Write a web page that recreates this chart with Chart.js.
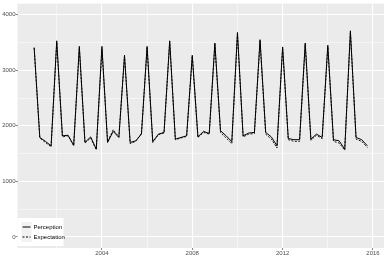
<!DOCTYPE html>
<html>
<head>
<meta charset="utf-8">
<script src="https://cdn.jsdelivr.net/npm/chart.js@4"></script>
<style>
  html, body { margin: 0; padding: 0; background: #fff; }
  #wrap { width: 388px; height: 259px; }
</style>
</head>
<body>
<div id="wrap"><canvas id="chart" width="388" height="259"></canvas></div>
<script>
// quarterly series, starting 2001 Q1
var startYear = 2001;
var perception = [
    3410, 1790, 1720, 1640,
    3530, 1820, 1830, 1650,
    3430, 1700, 1800, 1580,
    3430, 1700, 1900, 1790,
    3270, 1700, 1730, 1850,
    3430, 1715, 1850, 1880,
    3530, 1760, 1790, 1820,
    3270, 1800, 1900, 1860,
    3490, 1910, 1820, 1715,
    3680, 1820, 1870, 1880,
    3550, 1880, 1800, 1640,
    3420, 1770, 1750, 1750,
    3490, 1760, 1850, 1790,
    3450, 1750, 1730, 1580,
    3710, 1790, 1750, 1640
];
var expectation = [
    3400, 1780, 1700, 1620,
    3500, 1800, 1820, 1640,
    3400, 1690, 1780, 1570,
    3380, 1720, 1930, 1800,
    3250, 1680, 1720, 1870,
    3400, 1700, 1840, 1870,
    3500, 1750, 1780, 1810,
    3250, 1790, 1880, 1850,
    3460, 1880, 1780, 1680,
    3650, 1800, 1850, 1860,
    3520, 1850, 1760, 1600,
    3400, 1750, 1720, 1720,
    3460, 1740, 1830, 1770,
    3420, 1720, 1690, 1560,
    3680, 1760, 1720, 1610
];
var xTicks = [2002, 2004, 2006, 2008, 2010, 2012, 2014, 2016];
var xLabels = [2004, 2008, 2012, 2016];
var yTicks = [0, 500, 1000, 1500, 2000, 2500, 3000, 3500, 4000];
var yLabels = [0, 1000, 2000, 3000, 4000];
var seriesNames = ["Perception", "Expectation"];

function toPoints(arr) {
    return arr.map(function (v, i) { return { x: startYear + i / 4, y: v }; });
}

var panelBg = {
    id: 'panelBg',
    beforeDraw: function (chart) {
        var a = chart.chartArea, ctx = chart.ctx;
        ctx.save();
        ctx.fillStyle = '#EBEBEB';
        ctx.fillRect(a.left, a.top, a.right - a.left, a.bottom - a.top);
        ctx.restore();
    }
};

var insideLegend = {
    id: 'insideLegend',
    afterDraw: function (chart) {
        var a = chart.chartArea, ctx = chart.ctx;
        var x0 = a.left, y0 = a.bottom - 30;
        ctx.save();
        ctx.fillStyle = '#fff';
        ctx.fillRect(x0, y0, 46, 28);
        ctx.font = '6px "Liberation Sans", Arial, sans-serif';
        ctx.textBaseline = 'middle';
        for (var i = 0; i < seriesNames.length; i++) {
            var cy = y0 + 9 + i * 10;
            ctx.fillStyle = '#F2F2F2';
            ctx.fillRect(x0 + 4, cy - 5, 10, 10);
            ctx.strokeStyle = '#000';
            ctx.lineWidth = 1;
            ctx.setLineDash(i === 0 ? [] : [2, 1.5]);
            ctx.beginPath();
            ctx.moveTo(x0 + 5, cy);
            ctx.lineTo(x0 + 13, cy);
            ctx.stroke();
            ctx.setLineDash([]);
            ctx.fillStyle = '#000';
            ctx.fillText(seriesNames[i], x0 + 16, cy);
        }
        ctx.restore();
    }
};

new Chart(document.getElementById("chart"), {
    type: 'line',
    data: {
        datasets: [{
            label: seriesNames[0],
            data: toPoints(perception),
            borderColor: "#000",
            borderWidth: 1,
            pointRadius: 0,
            fill: false
        }, {
            label: seriesNames[1],
            data: toPoints(expectation),
            borderColor: "#000",
            borderWidth: 0.9,
            borderDash: [2, 1.5],
            pointRadius: 0,
            fill: false
        }]
    },
    options: {
        responsive: false,
        animation: false,
        layout: { padding: { top: 2, right: 4, left: 0, bottom: 0 } },
        plugins: {
            legend: { display: false },
            tooltip: { enabled: false }
        },
        scales: {
            x: {
                type: 'linear',
                min: 2000.2625,
                max: 2016.4875,
                afterBuildTicks: function (s) { s.ticks = xTicks.map(function (v) { return { value: v }; }); },
                afterFit: function (s) { s.height = 11; },
                ticks: {
                    autoSkip: false,
                    maxRotation: 0,
                    padding: 0,
                    color: '#4D4D4D',
                    font: { size: 6, family: '"Liberation Sans", Arial, sans-serif' },
                    callback: function (v) { return xLabels.indexOf(v) >= 0 ? String(v) : ''; }
                },
                grid: {
                    color: '#fff',
                    lineWidth: function (c) { return xLabels.indexOf(c.tick.value) >= 0 ? 1.1 : 0.5; },
                    tickLength: 2,
                    tickColor: function (c) { return xLabels.indexOf(c.tick.value) >= 0 ? '#333' : 'rgba(0,0,0,0)'; },
                    tickWidth: 0.6
                },
                border: { display: false }
            },
            y: {
                min: -200,
                max: 4200,
                afterBuildTicks: function (s) { s.ticks = yTicks.map(function (v) { return { value: v }; }); },
                afterFit: function (s) { s.width = 17.5; },
                ticks: {
                    autoSkip: false,
                    padding: 0,
                    color: '#4D4D4D',
                    font: { size: 6, family: '"Liberation Sans", Arial, sans-serif' },
                    callback: function (v) { return yLabels.indexOf(v) >= 0 ? String(v) : ''; }
                },
                grid: {
                    color: '#fff',
                    lineWidth: function (c) { return yLabels.indexOf(c.tick.value) >= 0 ? 1.1 : 0.5; },
                    tickLength: 2,
                    tickColor: function (c) { return yLabels.indexOf(c.tick.value) >= 0 ? '#333' : 'rgba(0,0,0,0)'; },
                    tickWidth: 0.6
                },
                border: { display: false }
            }
        }
    },
    plugins: [panelBg, insideLegend]
});
</script>
</body>
</html>
